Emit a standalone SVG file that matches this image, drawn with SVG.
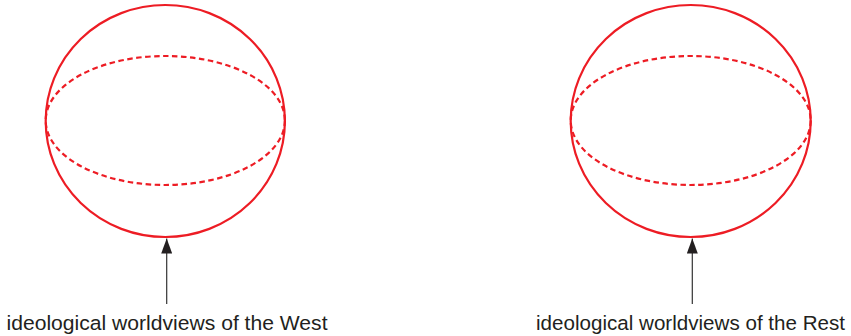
<svg xmlns="http://www.w3.org/2000/svg" width="851" height="336" viewBox="0 0 851 336">
<style>
.sphere{fill:none;stroke:#ed1c24;stroke-width:2.2}
.eq{fill:none;stroke:#ed1c24;stroke-width:2.2;stroke-dasharray:5.5 3.5}
.conn{stroke:#333333;stroke-width:1.2;fill:none}
.lbl{font-family:"Futura","Century Gothic","Liberation Sans",sans-serif;font-size:20.5px;fill:#231f20}
</style>
<defs>
<marker id="ah" markerWidth="15" markerHeight="11" refX="15" refY="5.5" orient="auto" markerUnits="userSpaceOnUse" viewBox="0 0 15 11">
<path d="M15 5.5 L0 0 L0 11 Z" fill="#231f20"/>
</marker>
</defs>
<g id="west">
<ellipse class="sphere" cx="165.3" cy="121" rx="119.6" ry="116"/>
<ellipse class="eq" cx="165.3" cy="120.5" rx="119.6" ry="64.5"/>
</g>
<g id="rest">
<ellipse class="sphere" cx="690.7" cy="121" rx="120" ry="116"/>
<ellipse class="eq" cx="690.7" cy="120.5" rx="120" ry="64.5"/>
</g>
<g id="label-west">
<text class="lbl" x="6.5" y="330" textLength="321" lengthAdjust="spacingAndGlyphs">ideological worldviews of the West</text>
</g>
<g id="label-rest">
<text class="lbl" x="536" y="330" textLength="309" lengthAdjust="spacingAndGlyphs">ideological worldviews of the Rest</text>
</g>
<g id="connectors">
<line class="conn" x1="166.7" y1="304" x2="166.7" y2="238.5" marker-end="url(#ah)"/>
<line class="conn" x1="692.3" y1="304" x2="692.3" y2="238.5" marker-end="url(#ah)"/>
</g>
</svg>
